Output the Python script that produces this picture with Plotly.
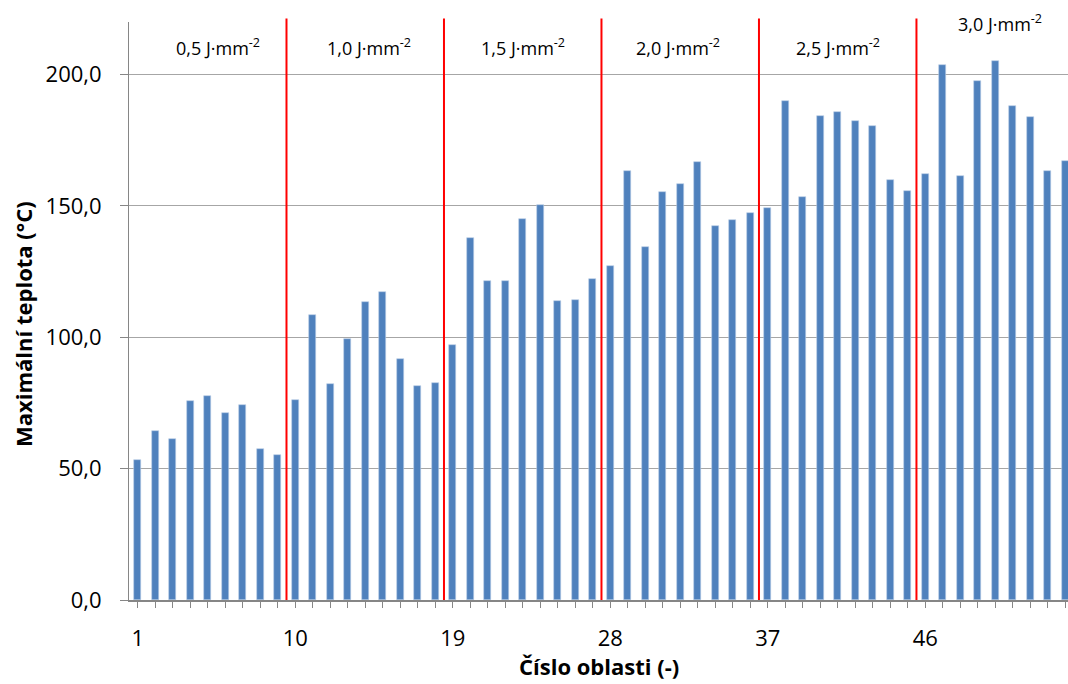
import plotly.graph_objects as go

# Region numbers 1..54 and the peak temperature measured in each
regions = list(range(1, 55))
max_temp = [
    53.3, 64.4, 61.1, 75.8, 77.8, 71.0, 74.3, 57.6, 55.2,        # 0,5 J/mm2
    76.3, 108.5, 82.3, 99.2, 113.3, 117.1, 91.9, 81.4, 82.5,     # 1,0 J/mm2
    97.2, 137.8, 121.6, 121.6, 145.2, 150.5, 113.7, 114.0, 122.0,  # 1,5 J/mm2
    127.0, 163.2, 134.3, 155.3, 158.4, 166.7, 142.4, 144.7, 147.3,  # 2,0 J/mm2
    149.2, 190.1, 153.4, 184.4, 185.6, 182.5, 180.3, 159.7, 155.8,  # 2,5 J/mm2
    162.1, 203.5, 161.5, 197.6, 205.3, 188.0, 184.0, 163.3, 167.1,  # 3,0 J/mm2
]

# Energy-density groups: label, label centre (region units), label height (°C)
group_labels = ["0,5", "1,0", "1,5", "2,0", "2,5", "3,0"]
label_x = [5.6, 14.2, 23.0, 31.9, 41.0, 50.3]
label_y = [210.6, 210.6, 210.6, 210.6, 210.6, 219.5]
# Group boundaries (between regions)
boundaries = [9.5, 18.5, 27.5, 36.5, 45.5]

x_tick_vals = [1, 10, 19, 28, 37, 46]
y_tick_vals = [0, 50, 100, 150, 200]

FONT = "Open Sans"
AXIS_GREY = "#868686"

fig = go.Figure()
fig.add_trace(go.Bar(
    x=regions, y=max_temp, width=0.42,
    marker=dict(color="#4F81BD", line=dict(color="#B9CDE5", width=0.6)),
    showlegend=False,
))

for b in boundaries:
    fig.add_shape(type="line", xref="x", yref="paper", x0=b, x1=b, y0=0, y1=1.006,
                  line=dict(color="#FF0000", width=2), layer="above")

for lab, lx, ly in zip(group_labels, label_x, label_y):
    fig.add_annotation(x=lx, y=ly, xref="x", yref="y",
                       text=f"{lab} J·mm<sup>-2</sup>", showarrow=False,
                       font=dict(family=FONT, size=18, color="#000000"),
                       xanchor="center", yanchor="middle")

# Axis titles
fig.add_annotation(xref="paper", yref="paper", x=0, y=0.5, xshift=-106, yshift=-13,
                   text="<b>Maximální teplota (°C)</b>", textangle=-90, showarrow=False,
                   font=dict(family=FONT, size=22, color="#000000"),
                   xanchor="center", yanchor="middle")
fig.add_annotation(xref="paper", yref="paper", x=0.5, y=0, yshift=-66,
                   xanchor="center", yanchor="middle",
                   text="<b>Číslo oblasti (-)</b>", showarrow=False,
                   font=dict(family=FONT, size=22, color="#000000"))

fig.update_layout(
    width=1068, height=684,
    margin=dict(l=129, r=0, t=22, b=84),
    paper_bgcolor="white", plot_bgcolor="white",
    separators=", ",
    bargap=0,
    font=dict(family=FONT, size=22, color="#000000"),
)
fig.update_xaxes(
    range=[0.5, 54.16],
    tickmode="array", tickvals=x_tick_vals, ticktext=[str(v) for v in x_tick_vals],
    ticks="outside", ticklen=6, tickcolor=AXIS_GREY,
    minor=dict(tickmode="linear", tick0=1, dtick=1, ticks="outside", ticklen=6,
               tickcolor=AXIS_GREY),
    ticklabelstandoff=12,
    showline=True, linecolor=AXIS_GREY, linewidth=1.5,
    showgrid=False, zeroline=False,
    tickfont=dict(family=FONT, size=22, color="#000000"),
)
fig.update_yaxes(
    range=[0, 220],
    tickmode="array", tickvals=y_tick_vals, tickformat=".1f",
    ticks="outside", ticklen=8, tickcolor=AXIS_GREY,
    ticklabelstandoff=14,
    showline=True, linecolor=AXIS_GREY, linewidth=1,
    showgrid=True, gridcolor="#A6A6A6", gridwidth=1,
    zeroline=False,
    tickfont=dict(family=FONT, size=22, color="#000000"),
)

fig.write_html("out.html")
